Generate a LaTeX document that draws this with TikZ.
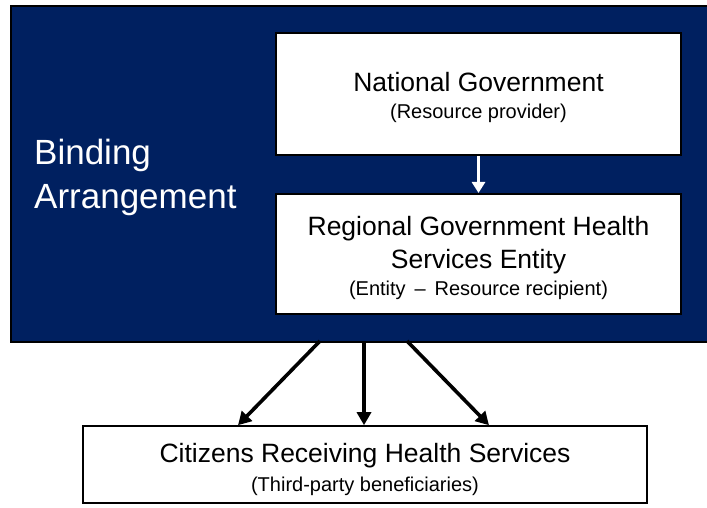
\documentclass[tikz,border=0pt]{standalone}
\usepackage{fontspec}
\setmainfont{Liberation Sans}
\usetikzlibrary{arrows.meta,calc}
\definecolor{navy}{RGB}{0,32,96}
\tikzset{
  wbox/.style={draw=black, fill=white, line width=2pt, inner sep=0pt, align=center, text=black, font=\fontsize{26.5}{33}\selectfont},
  blackarr/.style={draw=black, line width=3.6pt, -{Triangle[length=13pt,width=14pt]}},
  whitearr/.style={draw=white, line width=3.2pt, -{Triangle[length=11pt,width=13pt]}},
}
\newcommand{\subtxt}[1]{{\fontsize{20}{26}\selectfont #1}}
\newcommand{\topstrut}[1]{\rule{0pt}{#1}}
\begin{document}
\begin{tikzpicture}[x=1pt,y=-1pt]
\useasboundingbox (0,0) rectangle (707,508);
\fill[white] (0,0) rectangle (707,508);
% outer binding arrangement box
\node[draw=black, fill=navy, line width=2pt, minimum width=702pt, minimum height=336pt, inner sep=0pt, anchor=north west] (bind) at (10,5) {};
\node[anchor=base west, inner sep=0pt, text=white, align=left, font=\fontsize{35}{44}\selectfont] (bindtxt) at (34,208) {Binding\\Arrangement};
% national government
\node[wbox, minimum width=405pt, minimum height=122pt] (nat) at (478.5,94)
  {\topstrut{27pt}National Government\\[-6pt]\subtxt{(Resource provider)}};
% regional
\node[wbox, minimum width=405pt, minimum height=120pt] (reg) at (478.5,254)
  {\topstrut{27pt}Regional Government Health\\Services Entity\\[-6pt]\subtxt{(Entity \,–\, Resource recipient)}};
% citizens
\node[wbox, line width=1.6pt, minimum width=564pt, minimum height=77pt] (cit) at (365,464.5)
  {\topstrut{29pt}Citizens Receiving Health Services\\[-4pt]\subtxt{(Third-party beneficiaries)}};
% arrows
\draw[whitearr] (nat.south) -- (reg.north);
\coordinate (s1) at (320,341);
\coordinate (s2) at (364,341);
\coordinate (s3) at (407,341);
\draw[blackarr] (s1) -- ($(cit.north)+(-127,0)$);
\draw[blackarr] (s2) -- ($(cit.north)+(-1,0)$);
\draw[blackarr] (s3) -- ($(cit.north)+(124,0)$);
\end{tikzpicture}
\end{document}
